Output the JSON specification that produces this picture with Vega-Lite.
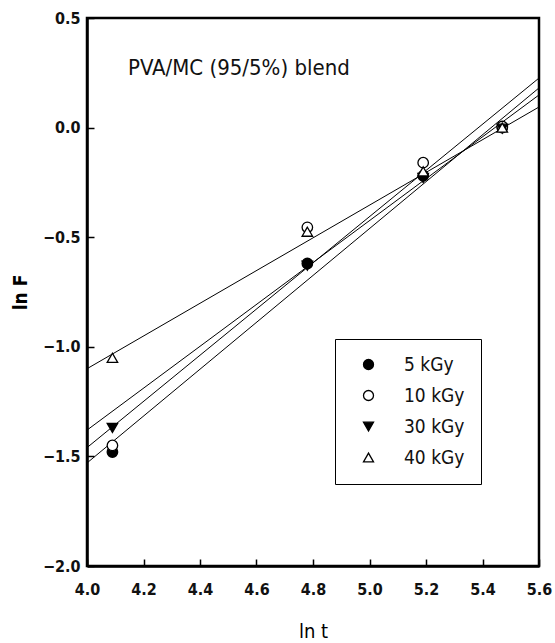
{
  "$schema": "https://vega.github.io/schema/vega-lite/v6.json",
  "autosize": "none",
  "width": 452,
  "height": 548,
  "padding": {"left": 87, "top": 18, "right": 16, "bottom": 77},
  "background": "white",
  "config": {
    "view": {"stroke": "black", "strokeWidth": 2.5},
    "font": "Liberation Sans",
    "axis": {
      "domainColor": "black", "domainWidth": 2.5,
      "tickColor": "black", "tickWidth": 1.5, "tickSize": -7,
      "grid": false,
      "labelFont": "'DejaVu Sans Condensed', 'Liberation Sans', sans-serif", "labelFontSize": 16, "labelFontWeight": "bold", "labelColor": "#111",
      "titleFont": "'DejaVu Sans Condensed', 'Liberation Sans', sans-serif", "titleColor": "black"
    }
  },
  "datasets": {
    "pts": [
      {"lnt": 4.09, "lnF": -1.48, "dose": "5 kGy"},
      {"lnt": 4.78, "lnF": -0.62, "dose": "5 kGy"},
      {"lnt": 5.19, "lnF": -0.22, "dose": "5 kGy"},
      {"lnt": 5.47, "lnF": 0.0, "dose": "5 kGy"},
      {"lnt": 4.09, "lnF": -1.45, "dose": "10 kGy"},
      {"lnt": 4.78, "lnF": -0.455, "dose": "10 kGy"},
      {"lnt": 5.19, "lnF": -0.16, "dose": "10 kGy"},
      {"lnt": 5.47, "lnF": 0.005, "dose": "10 kGy"},
      {"lnt": 4.09, "lnF": -1.37, "dose": "30 kGy"},
      {"lnt": 4.78, "lnF": -0.63, "dose": "30 kGy"},
      {"lnt": 5.19, "lnF": -0.23, "dose": "30 kGy"},
      {"lnt": 5.47, "lnF": -0.005, "dose": "30 kGy"},
      {"lnt": 4.09, "lnF": -1.05, "dose": "40 kGy"},
      {"lnt": 4.78, "lnF": -0.475, "dose": "40 kGy"},
      {"lnt": 5.19, "lnF": -0.2, "dose": "40 kGy"},
      {"lnt": 5.47, "lnF": 0.0, "dose": "40 kGy"}
    ],
    "fits": [
      {"lnt": 4.0, "lnF": -1.53, "dose": "5 kGy"},
      {"lnt": 5.6, "lnF": 0.181, "dose": "5 kGy"},
      {"lnt": 4.0, "lnF": -1.46, "dose": "10 kGy"},
      {"lnt": 5.6, "lnF": 0.226, "dose": "10 kGy"},
      {"lnt": 4.0, "lnF": -1.38, "dose": "30 kGy"},
      {"lnt": 5.6, "lnF": 0.149, "dose": "30 kGy"},
      {"lnt": 4.0, "lnF": -1.10, "dose": "40 kGy"},
      {"lnt": 5.6, "lnF": 0.094, "dose": "40 kGy"}
    ],
    "note": [
      {"lnt": 4.145, "lnF": 0.27, "label": "PVA/MC (95/5%) blend"}
    ]
  },
  "layer": [
    {
      "data": {"name": "fits"},
      "mark": {"type": "line", "color": "black", "strokeWidth": 1},
      "encoding": {
        "x": {"field": "lnt", "type": "quantitative",
              "scale": {"domain": [4.0, 5.6], "nice": false, "zero": false},
              "axis": {"values": [4.0, 4.2, 4.4, 4.6, 4.8, 5.0, 5.2, 5.4, 5.6], "format": ".1f",
                       "title": "ln t", "titleFontSize": 20, "titleFontWeight": "normal", "titlePadding": 24, "labelPadding": 22, "labelFlush": false}},
        "y": {"field": "lnF", "type": "quantitative",
              "scale": {"domain": [-2.0, 0.5], "nice": false, "zero": false},
              "axis": {"values": [-2.0, -1.5, -1.0, -0.5, 0.0, 0.5], "format": ".1f",
                       "title": "ln F", "titleFontSize": 19, "titleFontWeight": "bold", "titlePadding": 12, "labelPadding": 14, "labelFlush": false}},
        "detail": {"field": "dose"}
      }
    },
    {
      "data": {"name": "pts"},
      "mark": {"type": "point", "stroke": "black", "strokeWidth": 1.3, "size": 110, "opacity": 1, "filled": false},
      "encoding": {
        "x": {"field": "lnt", "type": "quantitative"},
        "y": {"field": "lnF", "type": "quantitative"},
        "shape": {"field": "dose", "type": "nominal",
                  "scale": {"domain": ["5 kGy", "10 kGy", "30 kGy", "40 kGy"], "range": ["circle", "circle", "triangle-down", "triangle-up"]},
                  "legend": {"title": null, "orient": "none", "legendX": 248, "legendY": 321,
                             "strokeColor": "black", "padding": 16, "fillColor": "white",
                             "labelFont": "'DejaVu Sans Condensed', 'Liberation Sans', sans-serif", "labelFontSize": 19, "labelColor": "#111",
                             "symbolSize": 100, "symbolStrokeColor": "black", "symbolStrokeWidth": 1.3,
                             "rowPadding": 11, "labelOffset": 26, "symbolOffset": 8}},
        "fill": {"field": "dose", "type": "nominal",
                 "scale": {"domain": ["5 kGy", "10 kGy", "30 kGy", "40 kGy"], "range": ["black", "white", "black", "white"]},
                 "legend": {"title": null}},
        "stroke": {"field": "dose", "type": "nominal",
                 "scale": {"domain": ["5 kGy", "10 kGy", "30 kGy", "40 kGy"], "range": ["black", "black", "black", "black"]},
                 "legend": {"title": null}}
      }
    },
    {
      "data": {"name": "note"},
      "mark": {"type": "text", "align": "left", "baseline": "middle", "font": "'DejaVu Sans Condensed', 'Liberation Sans', sans-serif", "fontSize": 22, "color": "#111"},
      "encoding": {
        "x": {"field": "lnt", "type": "quantitative"},
        "y": {"field": "lnF", "type": "quantitative"},
        "text": {"field": "label"}
      }
    }
  ]
}
